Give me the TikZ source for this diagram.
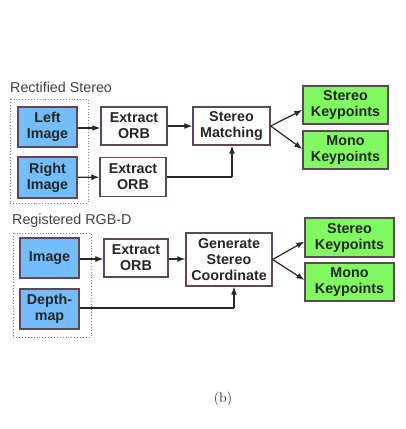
\documentclass[tikz,border=0pt]{standalone}
\usepackage{fontspec}
\setmainfont{Latin Modern Roman}
\newfontfamily\lsans{Liberation Sans}
\usetikzlibrary{arrows.meta}
\definecolor{boxblue}{RGB}{115,190,250}
\definecolor{boxgreen}{RGB}{128,250,96}
\definecolor{boxedge}{RGB}{95,70,90}
\definecolor{linegray}{RGB}{40,40,40}
\tikzset{
  x=1pt, y=-1pt,
  base/.style={draw=boxedge, line width=1.3pt, rectangle, align=center, inner sep=0pt,
    font=\lsans\bfseries\fontsize{14.3}{16}\selectfont, text=black!85},
  inbox/.style={base, fill=boxblue},
  procbox/.style={base, fill=white},
  outbox/.style={base, fill=boxgreen},
  group/.style={draw=gray, dotted, line width=0.9pt},
  conn/.style={draw=linegray, line width=1.2pt, -{Latex[length=8pt,width=6pt]}},
  plain/.style={draw=linegray, line width=1.2pt},
  title/.style={font=\lsans\fontsize{14.3}{16}\selectfont, text=black!75, anchor=west, inner sep=0pt}
}
\begin{document}
\begin{tikzpicture}
\useasboundingbox[fill=white] (0,0) rectangle (406,429);

% ---- Rectified Stereo ----
\node[title] (t1) at (10,87) {Rectified Stereo};
\draw[group] (10,99) rectangle (88,203);
\node[inbox, minimum width=59, minimum height=40] (li) at (47.5,127) {Left\\Image};
\node[inbox, minimum width=59, minimum height=41] (ri) at (47.5,177.5) {Right\\Image};
\node[procbox, minimum width=66, minimum height=38] (orb1) at (134,126) {Extract\\ORB};
\node[procbox, minimum width=66, minimum height=39] (orb2) at (133,177) {Extract\\ORB};
\node[procbox, minimum width=77, minimum height=38] (sm) at (231.5,126) {Stereo\\Matching};
\node[outbox, minimum width=85, minimum height=38] (skp1) at (345.5,105) {Stereo\\Keypoints};
\node[outbox, minimum width=85, minimum height=38] (mkp1) at (345.5,150) {Mono\\Keypoints};
\coordinate (c1) at (232,177);

\draw[conn] (li.east |- 0,128) -- (orb1.west |- 0,128);
\draw[conn] (orb1) -- (sm);
\draw[conn] (ri) -- (orb2);
\draw[plain] (orb2.east |- c1) -- (c1);
\draw[conn] (c1) -- (sm.south -| c1);
\draw[conn] (sm.east) -- ([yshift=-5pt]skp1.west);
\draw[conn] (sm.east) -- ([yshift=1pt]mkp1.west);

% ---- Registered RGB-D ----
\node[title] (t2) at (12,221) {Registered RGB-D};
\draw[group] (13,233) rectangle (91,337);
\node[inbox, minimum width=59, minimum height=40] (im) at (49.5,258) {Image};
\node[inbox, minimum width=59, minimum height=40] (dm) at (49.5,309) {Depth-\\map};
\node[procbox, minimum width=64, minimum height=38] (orb3) at (136,258) {Extract\\ORB};
\node[procbox, minimum width=86, minimum height=53] (gen) at (229,259.5) {Generate\\Stereo\\Coordinate};
\node[outbox, minimum width=89, minimum height=39] (skp2) at (349.5,237.5) {Stereo\\Keypoints};
\node[outbox, minimum width=89, minimum height=38] (mkp2) at (349.5,282) {Mono\\Keypoints};
\coordinate (c2) at (234,308);

\draw[conn] (im.east |- 0,259) -- (orb3.west |- 0,259);
\draw[conn] (orb3.east |- 0,259) -- (gen.west |- 0,259);
\draw[plain] (dm.east |- c2) -- (c2);
\draw[conn] (c2) -- (gen.south -| c2);
\draw[conn] (gen.east) -- ([yshift=-4pt]skp2.west);
\draw[conn] (gen.east) -- ([yshift=2pt]mkp2.west);

\node[font=\fontsize{14}{16}\selectfont, text=black!85] (cap) at (223,399) {(b)};
\end{tikzpicture}
\end{document}
